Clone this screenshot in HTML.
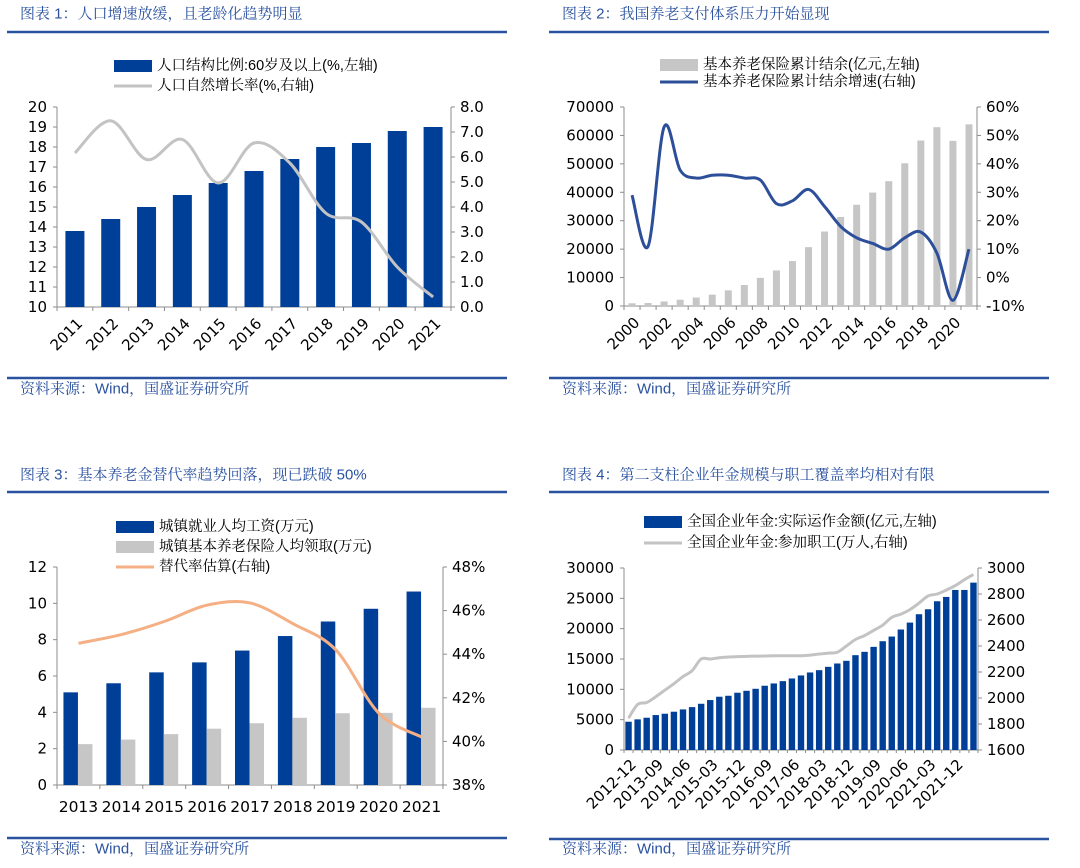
<!DOCTYPE html>
<html><head><meta charset="utf-8"><style>
body{margin:0;background:#fff;width:1080px;height:868px;overflow:hidden}
svg{display:block}
text{font-family:"DejaVu Sans","Liberation Sans","Noto Sans CJK SC",sans-serif}
.cjk{font-family:"Liberation Sans","Noto Serif CJK SC",serif}
</style></head><body>
<svg id="svg" width="1080" height="868" viewBox="0 0 1080 868"></svg>
<script>
// ---------- Data ----------
const c1Years=["2011","2012","2013","2014","2015","2016","2017","2018","2019","2020","2021"];
const c1Aged=[13.8,14.4,15.0,15.6,16.2,16.8,17.4,18.0,18.2,18.8,19.0];
const c1Growth=[6.16,7.45,5.9,6.7,4.96,6.56,5.76,3.76,3.4,1.6,0.4];
const c1LeftTicks=[10,11,12,13,14,15,16,17,18,19,20];
const c1RightTicks=["0.0","1.0","2.0","3.0","4.0","5.0","6.0","7.0","8.0"];

const c2Years=["2000","2001","2002","2003","2004","2005","2006","2007","2008","2009","2010","2011","2012","2013","2014","2015","2016","2017","2018","2019","2020","2021"];
const c2Balance=[950,1050,1600,2200,2975,4000,5500,7400,9900,12500,15800,20700,26200,31300,35600,39900,43900,50200,58200,62900,58100,63900];
const c2Growth=[29,11,53,37.8,35,36,36,35,34.3,26,27,31,25,18,14,12,10,14,16,8.6,-8,10];
const c2LeftTicks=[0,10000,20000,30000,40000,50000,60000,70000];
const c2RightTicks=[-10,0,10,20,30,40,50,60];

const c3Years=["2013","2014","2015","2016","2017","2018","2019","2020","2021"];
const c3Wage=[5.1,5.6,6.2,6.75,7.4,8.2,9.0,9.7,10.65];
const c3Pension=[2.25,2.5,2.8,3.1,3.4,3.7,3.95,3.97,4.25];
const c3Ratio=[44.5,44.9,45.5,46.25,46.35,45.4,44.2,41.3,40.2];
const c3LeftTicks=[0,2,4,6,8,10,12];
const c3RightTicks=[38,40,42,44,46,48];

const c4Quarters=["2012-12","2013-03","2013-06","2013-09","2013-12","2014-03","2014-06","2014-09","2014-12","2015-03","2015-06","2015-09","2015-12","2016-03","2016-06","2016-09","2016-12","2017-03","2017-06","2017-09","2017-12","2018-03","2018-06","2018-09","2018-12","2019-03","2019-06","2019-09","2019-12","2020-03","2020-06","2020-09","2020-12","2021-03","2021-06","2021-09","2021-12","2022-03","2022-06"];
const c4Assets=[4660,5050,5320,5760,5980,6310,6690,7070,7620,8230,8780,8940,9440,9760,10090,10590,10970,11350,11790,12290,12780,13160,13710,14260,14700,15630,16180,17000,17930,18700,19860,21000,22380,23200,24520,25230,26380,26380,27590];
const c4Workers=[1845,1950,1965,2010,2060,2110,2165,2210,2300,2300,2310,2315,2318,2320,2322,2323,2325,2325,2325,2325,2330,2338,2345,2352,2400,2450,2480,2520,2560,2620,2645,2680,2730,2785,2800,2830,2865,2910,2950];
const c4LeftTicks=[0,5000,10000,15000,20000,25000,30000];
const c4RightTicks=[1600,1800,2000,2200,2400,2600,2800,3000];

// ---------- Helpers ----------
const NS="http://www.w3.org/2000/svg";
const svg=document.getElementById('svg');
function mk(tag,attrs,name,parent){
  const el=document.createElementNS(NS,tag);
  for(const k in attrs) el.setAttribute(k,attrs[k]);
  
  
  (parent||svg).appendChild(el);return el;
}
function txt(x,y,s,size,fill,anchor,name,cls,transform){
  const a={x:x,y:y,'font-size':size,fill:fill,'text-anchor':anchor||'start','dominant-baseline':'central'};
  if(cls) a['class']=cls;
  if(transform) a.transform=transform;
  const t=mk('text',a,name);t.textContent=s;return t;
}
function scale(d0,d1,r0,r1){return v=>r0+(v-d0)/(d1-d0)*(r1-r0);}
function smoothPath(pts){
  let d='M'+pts[0][0]+','+pts[0][1];
  for(let i=0;i<pts.length-1;i++){
    const p0=pts[i-1]||pts[i],p1=pts[i],p2=pts[i+1],p3=pts[i+2]||p2;
    const t=6;
    const c1x=p1[0]+(p2[0]-p0[0])/t,c1y=p1[1]+(p2[1]-p0[1])/t;
    const c2x=p2[0]-(p3[0]-p1[0])/t,c2y=p2[1]-(p3[1]-p1[1])/t;
    d+=' C'+c1x+','+c1y+' '+c2x+','+c2y+' '+p2[0]+','+p2[1];
  }
  return d;
}
const BLUE='#2a52a0', BAR='#003f98', GRAY='#c6c6c6', AX='#8c8c8c';
function header(x,title,y,ry,sy,sry){
  txt(x+13,y,title,15,BLUE,'start','chart-title','cjk');
  mk('line',{x1:x,y1:ry,x2:x+500,y2:ry,stroke:BLUE,'stroke-width':2.5},'title-rule');
  mk('line',{x1:x,y1:sry,x2:x+500,y2:sry,stroke:BLUE,'stroke-width':2.5},'source-rule');
  txt(x+13,sy,'资料来源：Wind，国盛证券研究所',15,BLUE,'start','source-note','cjk');
}
function axes(L,R,T,B,n,ly,ry,lt,rt,lfmt,rfmt){
  mk('line',{x1:L,y1:T,x2:L,y2:B,stroke:AX,'stroke-width':1},'left-axis');
  mk('line',{x1:R,y1:T,x2:R,y2:B,stroke:AX,'stroke-width':1},'right-axis');
  mk('line',{x1:L,y1:B,x2:R,y2:B,stroke:AX,'stroke-width':1},'x-axis');
  lt.forEach(v=>{const y=ly(v);
    mk('line',{x1:L-4,y1:y,x2:L,y2:y,stroke:AX},'left-tick');
    txt(L-10,y,lfmt(v),15,'#000','end','left-tick-label');});
  rt.forEach(v=>{const y=ry(parseFloat(v));
    mk('line',{x1:R,y1:y,x2:R+4,y2:y,stroke:AX},'right-tick');
    txt(R+9,y,rfmt(v),15,'#000','start','right-tick-label');});
  const w=(R-L)/n;
  for(let i=0;i<=n;i++) mk('line',{x1:L+i*w,y1:B,x2:L+i*w,y2:B+4,stroke:AX},'x-tick');
  return w;
}
function legendBar(x,y,color,label){
  mk('rect',{x:x,y:y-6,width:38,height:12,fill:color},'legend-swatch');
  txt(x+43,y,label,14.5,'#000','start','legend-entry','cjk');
}
function legendLine(x,y,color,label){
  mk('line',{x1:x,y1:y,x2:x+38,y2:y,stroke:color,'stroke-width':3},'legend-swatch');
  txt(x+43,y,label,14.5,'#000','start','legend-entry','cjk');
}

// ---------- Chart 1 ----------
(function(){
  header(7,'图表 1：人口增速放缓，且老龄化趋势明显',14,32,389,378);
  const L=57,R=451,T=107,B=307;
  const ly=scale(10,20,B,T), ry=scale(0,8,B,T);
  const w=axes(L,R,T,B,c1Years.length,ly,ry,c1LeftTicks,c1RightTicks,v=>String(v),v=>v);
  c1Aged.forEach((v,i)=>{const cx=L+w*(i+.5);
    mk('rect',{x:cx-9.5,y:ly(v),width:19,height:B-ly(v),fill:BAR},'bar-aged-'+c1Years[i]);});
  mk('path',{d:smoothPath(c1Growth.map((v,i)=>[L+w*(i+.5),ry(v)])),fill:'none',stroke:'#c3c3c3','stroke-width':3},'line-natural-growth');
  c1Years.forEach((s,i)=>{const cx=L+w*(i+.5)+5,y=B+14;
    txt(cx,y,s,15,'#000','end','x-tick-label',null,'rotate(-45 '+cx+' '+y+')');});
  legendBar(114,66,BAR,'人口结构比例:60岁及以上(%,左轴)');
  legendLine(114,86,'#c3c3c3','人口自然增长率(%,右轴)');
})();

// ---------- Chart 2 ----------
(function(){
  header(549,'图表 2：我国养老支付体系压力开始显现',14,32,389,378);
  const L=624,R=977,T=107,B=306;
  const ly=scale(0,70000,B,T), ry=scale(-10,60,B,T);
  const w=axes(L,R,T,B,c2Years.length,ly,ry,c2LeftTicks,c2RightTicks,v=>String(v),v=>v+'%');
  c2Balance.forEach((v,i)=>{const cx=L+w*(i+.5);
    mk('rect',{x:cx-3.5,y:ly(v),width:7,height:B-ly(v),fill:GRAY},'bar-balance-'+c2Years[i]);});
  mk('path',{d:smoothPath(c2Growth.map((v,i)=>[L+w*(i+.5),ry(v)])),fill:'none',stroke:'#2d4f9a','stroke-width':3},'line-balance-growth');
  c2Years.forEach((s,i)=>{if(i%2) return;const cx=L+w*(i+.5)+5,y=B+14;
    txt(cx,y,s,15,'#000','end','x-tick-label',null,'rotate(-45 '+cx+' '+y+')');});
  legendBar(660,65,GRAY,'基本养老保险累计结余(亿元,左轴)');
  legendLine(660,82,'#2d4f9a','基本养老保险累计结余增速(右轴)');
})();

// ---------- Chart 3 ----------
(function(){
  header(7,'图表 3：基本养老金替代率趋势回落，现已跌破 50%',475,492,849,838);
  const L=57,R=443,T=567,B=785;
  const ly=scale(0,12,B,T), ry=scale(38,48,B,T);
  const w=axes(L,R,T,B,c3Years.length,ly,ry,c3LeftTicks,c3RightTicks,v=>String(v),v=>v+'%');
  c3Years.forEach((s,i)=>{const cx=L+w*(i+.5);
    mk('rect',{x:cx-15,y:ly(c3Wage[i]),width:14.5,height:B-ly(c3Wage[i]),fill:BAR},'bar-wage-'+s);
    mk('rect',{x:cx-0.5,y:ly(c3Pension[i]),width:14.5,height:B-ly(c3Pension[i]),fill:GRAY},'bar-pension-'+s);
    txt(cx,807,s,15.5,'#000','middle','x-tick-label');});
  mk('path',{d:smoothPath(c3Ratio.map((v,i)=>[L+w*(i+.5),ry(v)])),fill:'none',stroke:'#f4b084','stroke-width':3},'line-replacement-rate');
  legendBar(116,527,BAR,'城镇就业人均工资(万元)');
  legendBar(116,547,GRAY,'城镇基本养老保险人均领取(万元)');
  legendLine(116,567,'#f4b084','替代率估算(右轴)');
})();

// ---------- Chart 4 ----------
(function(){
  header(549,'图表 4：第二支柱企业年金规模与职工覆盖率均相对有限',475,492,849,839);
  const L=624,R=978,T=568,B=750;
  const ly=scale(0,30000,B,T), ry=scale(1600,3000,B,T);
  const n=c4Quarters.length;
  const w=(R-L)/n;
  mk('line',{x1:L,y1:T,x2:L,y2:B,stroke:AX},'left-axis');
  mk('line',{x1:R,y1:T,x2:R,y2:B,stroke:AX},'right-axis');
  mk('line',{x1:L,y1:B,x2:R,y2:B,stroke:AX},'x-axis');
  c4LeftTicks.forEach(v=>{const y=ly(v);mk('line',{x1:L-4,y1:y,x2:L,y2:y,stroke:AX},'left-tick');txt(L-10,y,String(v),15,'#000','end','left-tick-label');});
  c4RightTicks.forEach(v=>{const y=ry(v);mk('line',{x1:R,y1:y,x2:R+4,y2:y,stroke:AX},'right-tick');txt(R+9,y,String(v),15,'#000','start','right-tick-label');});
  for(let i=0;i<=n;i++) mk('line',{x1:L+i*w,y1:B,x2:L+i*w,y2:B+3,stroke:AX},'x-tick');
  c4Assets.forEach((v,i)=>{const cx=L+w*(i+.5);
    mk('rect',{x:cx-3.2,y:ly(v),width:6.4,height:B-ly(v),fill:BAR},'bar-assets-'+c4Quarters[i]);});
  mk('path',{d:smoothPath(c4Workers.map((v,i)=>[L+w*(i+.5),ry(v)])),fill:'none',stroke:'#c3c3c3','stroke-width':3},'line-participants');
  c4Quarters.forEach((s,i)=>{if(i%3) return;const cx=L+w*(i+.5)+5,y=B+12;
    txt(cx,y,s,15,'#000','end','x-tick-label',null,'rotate(-45 '+cx+' '+y+')');});
  legendBar(644,522,BAR,'全国企业年金:实际运作金额(亿元,左轴)');
  legendLine(644,543,'#c3c3c3','全国企业年金:参加职工(万人,右轴)');
})();
</script>
</body></html>
